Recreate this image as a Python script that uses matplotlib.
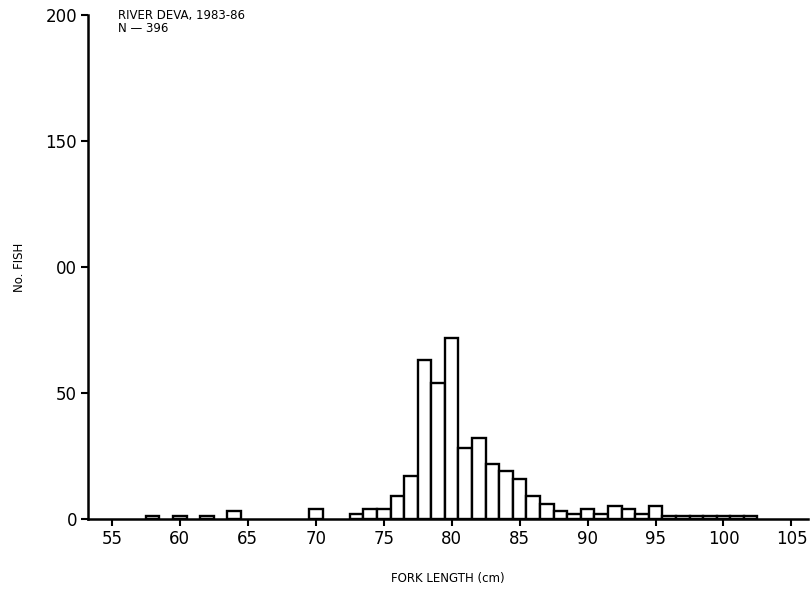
import numpy as np
import matplotlib.pyplot as plt

# fork length classes (cm) and number of fish in each 1 cm class
lengths = [58, 60, 62, 64, 70, 73, 74, 75, 76, 77, 78, 79, 80, 81, 82, 83, 84,
           85, 86, 87, 88, 89, 90, 91, 92, 93, 94, 95, 96, 97, 98, 99, 100, 101, 102]
counts = [1, 1, 1, 3, 4, 2, 4, 4, 9, 17, 63, 54, 72, 28, 32, 22, 19,
          16, 9, 6, 3, 2, 4, 2, 5, 4, 2, 5, 1, 1, 1, 1, 1, 1, 1]

x_ticks = [55, 60, 65, 70, 75, 80, 85, 90, 95, 100, 105]
y_ticks = [0, 50, 100, 150, 200]
y_ticklabels = ['0', '50', '00', '150', '200']

fig = plt.figure(figsize=(8.11, 5.95), dpi=100)
ax = fig.add_axes([0.1085, 0.1277, 0.8875, 0.8471])

ax.bar(lengths, counts, width=1.0, align='center', color='white',
       edgecolor='black', linewidth=1.7)

ax.set_xlim(53.24, 106.2)
ax.set_ylim(0, 200)

ax.set_xticks(x_ticks)
ax.set_yticks(y_ticks)
ax.set_yticklabels(y_ticklabels)
ax.tick_params(axis='both', direction='out', length=5, width=1.5,
               labelsize=12, colors='black')
ax.tick_params(axis='x', pad=3)
ax.tick_params(axis='y', pad=3)

for side in ['top', 'right']:
    ax.spines[side].set_visible(False)
for side in ['left', 'bottom']:
    ax.spines[side].set_linewidth(1.8)

ax.set_xlabel('FORK LENGTH (cm)', fontsize=8.5, labelpad=17)
ax.set_ylabel('No. FISH', fontsize=8.5, labelpad=14)

ax.text(0.042, 1.012, 'RIVER DEVA, 1983-86\nN \u2014 396', transform=ax.transAxes,
        fontsize=8.5, va='top', ha='left', linespacing=1.0)

fig.savefig('out.png', dpi=100)
